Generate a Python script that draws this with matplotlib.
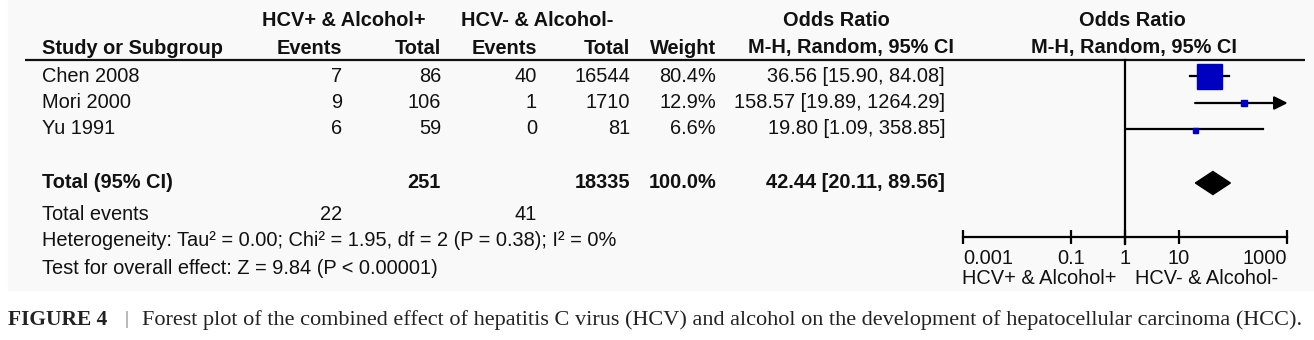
import matplotlib
matplotlib.use('Agg')
import matplotlib.pyplot as plt
from matplotlib.patches import Polygon, Rectangle

# ---- data ----
studies = ["Chen 2008", "Mori 2000", "Yu 1991"]
ev_pos = [7, 9, 6]
tot_pos = [86, 106, 59]
ev_neg = [40, 1, 0]
tot_neg = [16544, 1710, 81]
weights = [80.4, 12.9, 6.6]
odds = [36.56, 158.57, 19.80]
ci_low = [15.90, 19.89, 1.09]
ci_high = [84.08, 1264.29, 358.85]

pooled = [42.44, 20.11, 89.56]   # OR, low, high
pooled_weight = 100.0
het_text = "Heterogeneity: Tau\u00b2 = 0.00; Chi\u00b2 = 1.95, df = 2 (P = 0.38); I\u00b2 = 0%"
test_text = "Test for overall effect: Z = 9.84 (P < 0.00001)"
tick_vals = [0.001, 0.1, 1, 10, 1000]
tick_labels = ["0.001", "0.1", "1", "10", "1000"]
grp_pos = "HCV+ & Alcohol+"
grp_neg = "HCV- & Alcohol-"
caption = ("Forest plot of the combined effect of hepatitis C virus (HCV) and alcohol "
           "on the development of hepatocellular carcinoma (HCC).")

plt.rcParams['font.family'] = ['Liberation Sans', 'DejaVu Sans']
TXT = '#111111'
FS = 14.4
BLUE = '#0000c0'

fig = plt.figure(figsize=(13.14, 3.40), dpi=100)
ax = fig.add_axes([0, 0, 1, 1])
ax.set_xlim(0, 1314)
ax.set_ylim(340, 0)
ax.axis('off')

# faint panel behind the table
ax.add_patch(Rectangle((8, 0), 1306, 290, color='#f9f9f9', zorder=0))

# headers
ax.text(344, 21, grp_pos, ha='center', va='center', fontsize=FS, fontweight='bold', color=TXT)
ax.text(537, 21, grp_neg, ha='center', va='center', fontsize=FS, fontweight='bold', color=TXT)
ax.text(836, 21, "Odds Ratio", ha='center', va='center', fontsize=FS, fontweight='bold', color=TXT)
ax.text(1132, 21, "Odds Ratio", ha='center', va='center', fontsize=FS, fontweight='bold', color=TXT)

hdr_y = 48
ax.text(42, hdr_y, "Study or Subgroup", ha='left', va='center', fontsize=FS, fontweight='bold', color=TXT)
col_x = [342, 441, 537, 630, 716, 945]
for x, lab in zip(col_x[:5], ["Events", "Total", "Events", "Total", "Weight"]):
    ax.text(x, hdr_y, lab, ha='right', va='center', fontsize=FS, fontweight='bold', color=TXT)
ax.text(851, hdr_y, "M-H, Random, 95% CI", ha='center', va='center', fontsize=FS, fontweight='bold', color=TXT)
ax.text(1134, hdr_y, "M-H, Random, 95% CI", ha='center', va='center', fontsize=FS, fontweight='bold', color=TXT)
ax.plot([25, 1305], [60, 60], color=TXT, lw=1.6, solid_capstyle='butt')

# study rows
row_y = [76, 103, 129]
for i, y in enumerate(row_y):
    ax.text(42, y, studies[i], ha='left', va='center', fontsize=FS, color=TXT)
    vals = [str(ev_pos[i]), str(tot_pos[i]), str(ev_neg[i]), str(tot_neg[i]),
            "%.1f%%" % weights[i],
            "%.2f [%.2f, %.2f]" % (odds[i], ci_low[i], ci_high[i])]
    for x, v in zip(col_x, vals):
        ax.text(x, y, v, ha='right', va='center', fontsize=FS, color=TXT)

# total row
tot_y = 183
ax.text(42, tot_y, "Total (95% CI)", ha='left', va='center', fontsize=FS, fontweight='bold', color=TXT)
tvals = [(441, str(sum(tot_pos))), (630, str(sum(tot_neg))), (716, "%.1f%%" % pooled_weight),
         (945, "%.2f [%.2f, %.2f]" % tuple(pooled))]
for x, v in tvals:
    ax.text(x, tot_y, v, ha='right', va='center', fontsize=FS, fontweight='bold', color=TXT)

ax.text(42, 214, "Total events", ha='left', va='center', fontsize=FS, color=TXT)
ax.text(342, 214, str(sum(ev_pos)), ha='right', va='center', fontsize=FS, color=TXT)
ax.text(537, 214, str(sum(ev_neg)), ha='right', va='center', fontsize=FS, color=TXT)
ax.text(42, 241, het_text, ha='left', va='center', fontsize=FS, color=TXT)
ax.text(42, 269, test_text, ha='left', va='center', fontsize=FS, color=TXT)

# ---- forest part, log scale ----
ax2 = fig.add_axes([963 / 1314, 0, 324 / 1314, 1])
ax2.set_xscale('log')
ax2.set_xlim(1e-3, 1e3)
ax2.set_ylim(340, 0)
ax2.axis('off')
ax2.patch.set_alpha(0)

sq_size = [18, 5, 3.6]
for i, y in enumerate(row_y):
    lo = max(ci_low[i], 1e-3)
    hi = min(ci_high[i], 1e3)
    if ci_high[i] > 1e3:
        ax2.annotate('', xy=(1e3 * 1.03, y), xytext=(lo, y),
                     arrowprops=dict(arrowstyle='-|>', lw=1.6, color='black',
                                     mutation_scale=20, shrinkA=0, shrinkB=0),
                     annotation_clip=False)
    else:
        ax2.plot([lo, hi], [y, y], color='black', lw=1.6, clip_on=False)
    ax2.plot(odds[i], y + (1 if i == 2 else 0), marker='s', ms=sq_size[i], color=BLUE,
             mec=BLUE, clip_on=False, zorder=3)

# pooled diamond
ax2.add_patch(Polygon([(pooled[1], tot_y), (pooled[0], tot_y - 11.5),
                       (pooled[2], tot_y), (pooled[0], tot_y + 11.5)],
                      closed=True, color='black', zorder=3))

# line of no effect and axis
ax2.plot([1, 1], [60, 244], color='black', lw=1.6, clip_on=False)
ax2.plot([1e-3, 1e3], [237, 237], color='black', lw=1.6, clip_on=False)
ax2.vlines(tick_vals, 230, 244, color='black', lw=1.6, clip_on=False)
aligns = ['left', 'center', 'center', 'center', 'right']
for v, lab, ha in zip(tick_vals, tick_labels, aligns):
    ax2.text(v, 258, lab, ha=ha, va='center', fontsize=FS, color=TXT)
ax.text(1116, 278, grp_pos, ha='right', va='center', fontsize=FS, color=TXT)
ax.text(1135, 278, grp_neg, ha='left', va='center', fontsize=FS, color=TXT)

# caption
ax.text(8, 320, "FIGURE 4", ha='left', va='center', fontsize=15.5, fontweight='bold',
        family=['Liberation Serif'], color='#222222')
ax.text(127, 319, "|", ha='center', va='center', fontsize=14, family=['Liberation Serif'],
        color='#777777')
ax.text(142, 320, caption, ha='left', va='center', fontsize=16,
        family=['Liberation Serif'], color='#222222')

fig.savefig('out.png', dpi=100)
